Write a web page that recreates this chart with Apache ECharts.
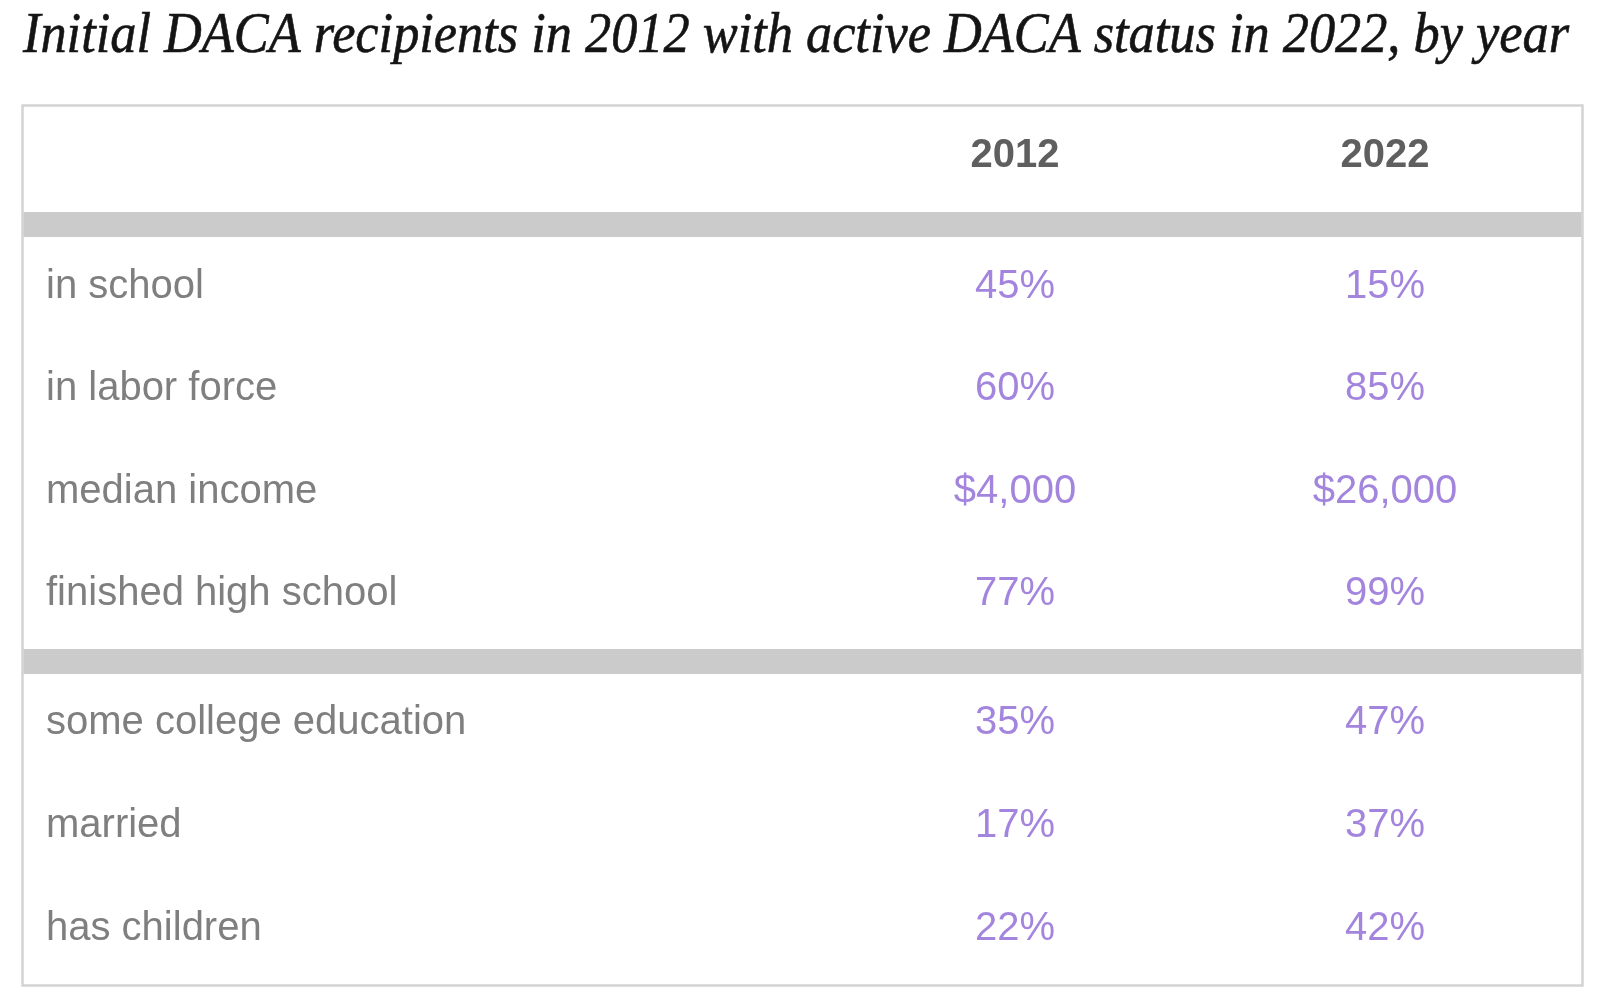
<!DOCTYPE html>
<html>
<head>
<meta charset="utf-8">
<style>html,body{margin:0;padding:0;background:#fff;}#chart{width:1600px;height:999px;}</style>
<script src="https://cdn.jsdelivr.net/npm/echarts@6/dist/echarts.min.js"></script>
</head>
<body>
<div id="chart"></div>
<script>
// ---- data ----
const titleText = 'Initial DACA recipients in 2012 with active DACA status in 2022, by year';
const years = ['2012', '2022'];
const rowsTop = ['in school', 'in labor force', 'median income', 'finished high school'];
const rowsBottom = ['some college education', 'married', 'has children'];
const unitsTop = ['%', '%', '$', '%'];
const unitsBottom = ['%', '%', '%'];
const top2012 = [45, 60, 4000, 77];
const top2022 = [15, 85, 26000, 99];
const bottom2012 = [35, 17, 22];
const bottom2022 = [47, 37, 42];

// ---- styles ----
const SANS = '"Liberation Sans", Arial, sans-serif';
const LABEL_GRAY = '#7f7f7f';
const HEAD_GRAY = '#5f5f5f';
const PURPLE = '#8c66d6';
const BAND = '#cbcbcb';
const FRAME = '#d3d3d3';

function fmt(v, unit) {
  if (unit === '$') return '$' + v.toLocaleString('en-US');
  return v + '%';
}

function cellSeries(gridIdx, rows, vals, units, year) {
  return {
    type: 'scatter',
    xAxisIndex: gridIdx,
    yAxisIndex: gridIdx,
    symbolSize: 1,
    itemStyle: { color: 'rgba(0,0,0,0)' },
    silent: true,
    data: vals.map((v, i) => ({ value: [year, rows[i], v], unit: units[i] })),
    label: {
      show: true,
      position: 'inside',
      fontFamily: SANS,
      fontSize: 40,
      color: PURPLE,
      formatter: p => fmt(p.value[2], p.data.unit)
    }
  };
}

// title width measurement for condensed serif look
const ctx = document.createElement('canvas').getContext('2d');
const TITLE_FONT_SIZE = 56;
ctx.font = 'italic ' + TITLE_FONT_SIZE + 'px "Liberation Serif"';
const titleW = ctx.measureText(titleText).width;
const titleScale = 1546 / titleW;

const chart = echarts.init(document.getElementById('chart'), null, { renderer: 'canvas' });

const yAxisCommon = {
  type: 'category',
  inverse: true,
  axisLine: { show: false },
  axisTick: { show: false },
  splitLine: { show: false },
  axisLabel: {
    align: 'left',
    margin: 784,
    fontFamily: SANS,
    fontSize: 40,
    color: LABEL_GRAY
  }
};

chart.setOption({
  backgroundColor: '#ffffff',
  animation: false,
  grid: [
    { left: 830, width: 740, top: 236, height: 409, outerBoundsMode: 'none', containLabel: false },
    { left: 830, width: 740, top: 671, height: 310, outerBoundsMode: 'none', containLabel: false }
  ],
  xAxis: [
    {
      type: 'category', gridIndex: 0, data: years, position: 'top',
      axisLine: { show: false }, axisTick: { show: false }, splitLine: { show: false },
      axisLabel: {
        margin: 80, verticalAlign: 'middle',
        fontFamily: SANS, fontSize: 40, fontWeight: 'bold', color: HEAD_GRAY
      }
    },
    {
      type: 'category', gridIndex: 1, data: years, show: false
    }
  ],
  yAxis: [
    Object.assign({ gridIndex: 0, data: rowsTop }, yAxisCommon),
    Object.assign({ gridIndex: 1, data: rowsBottom }, yAxisCommon)
  ],
  graphic: [
    {
      type: 'rect', z: -10, silent: true,
      shape: { x: 22.5, y: 105.5, width: 1560, height: 880 },
      style: { fill: '#ffffff', stroke: FRAME, lineWidth: 2.5 }
    },
    {
      type: 'rect', z: -5, silent: true,
      shape: { x: 23.5, y: 212, width: 1558, height: 25 },
      style: { fill: BAND }
    },
    {
      type: 'rect', z: -5, silent: true,
      shape: { x: 23.5, y: 649, width: 1558, height: 25 },
      style: { fill: BAND }
    },
    {
      type: 'text', silent: true,
      x: 23, y: 37, scaleX: titleScale, scaleY: 1,
      style: {
        text: titleText,
        x: 0, y: 0,
        align: 'left', verticalAlign: 'middle',
        font: 'italic ' + TITLE_FONT_SIZE + 'px "Liberation Serif", serif',
        fill: '#141414',
        stroke: '#141414',
        lineWidth: 0.6
      }
    }
  ],
  series: [
    cellSeries(0, rowsTop, top2012, unitsTop, years[0]),
    cellSeries(0, rowsTop, top2022, unitsTop, years[1]),
    cellSeries(1, rowsBottom, bottom2012, unitsBottom, years[0]),
    cellSeries(1, rowsBottom, bottom2022, unitsBottom, years[1])
  ]
});
</script>
</body>
</html>
